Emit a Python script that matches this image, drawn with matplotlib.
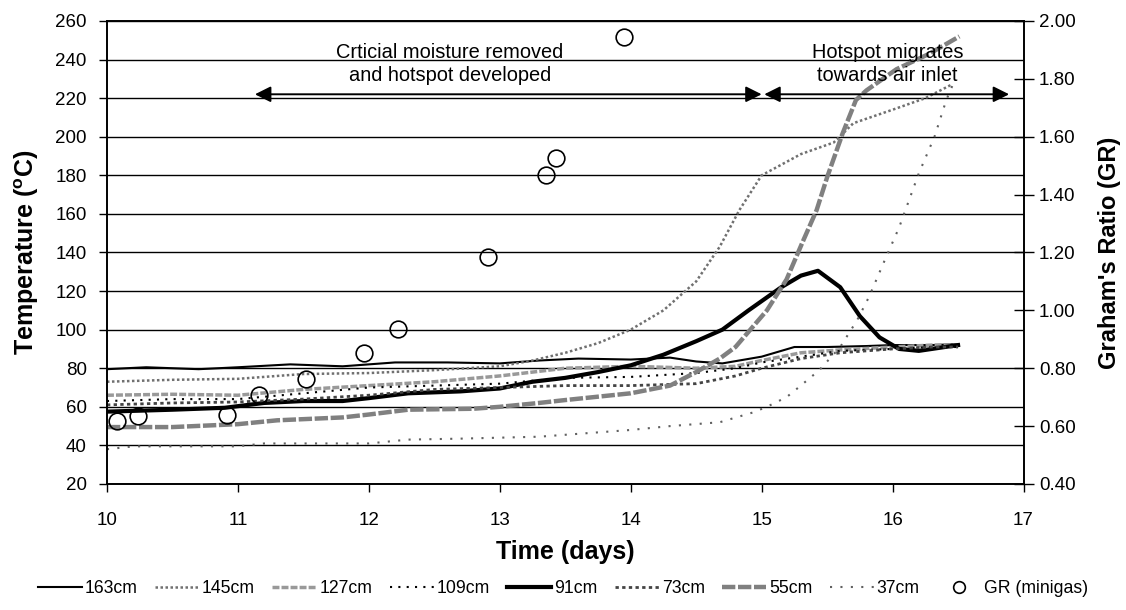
import matplotlib
matplotlib.use("Agg")
import matplotlib.pyplot as plt
from matplotlib.ticker import FormatStrFormatter, MultipleLocator

plt.rcParams['font.family'] = ['Liberation Sans', 'DejaVu Sans']

# ---- data ----
d163 = [10.0, 10.3, 10.7, 11.0, 11.4, 11.8, 12.2, 12.6, 13.0, 13.3, 13.6, 14.0, 14.3, 14.5, 14.7, 15.0, 15.25, 15.5, 15.8, 16.0, 16.3, 16.5]
t163 = [79.5, 80.5, 79.5, 80.5, 82, 81, 83, 83, 82.5, 84, 85, 84.5, 85.5, 83.5, 82.5, 86, 91, 91, 91.5, 92, 92, 92.5]

d145 = [10.0, 10.5, 11.0, 11.5, 12.0, 12.5, 13.0, 13.25, 13.5, 13.75, 14.0, 14.25, 14.5, 14.68, 14.83, 15.0, 15.3, 15.55, 15.7, 16.0, 16.25, 16.45]
t145 = [73, 74, 74.5, 77, 77.5, 79, 81, 84, 88, 93, 100, 110, 125, 143, 162, 180, 191, 197, 207, 214, 220, 227]

d_mid = [10.0, 10.5, 11.0, 11.5, 12.0, 12.5, 13.0, 13.5, 14.0, 14.5, 14.8, 15.0, 15.3, 15.6, 16.0, 16.3, 16.5]
t127 = [66, 66.5, 66, 69, 71, 73, 76, 80, 81, 80, 81, 84, 88, 89.5, 91, 92, 92]
t109 = [63, 64, 64, 67, 70, 71, 72, 75, 75.5, 77.5, 80, 83, 86, 89, 90, 91, 91]
t73 = [61, 62, 62.5, 64, 66, 69, 70, 71, 71, 72, 76, 80, 85, 88, 90, 91, 91]

d91 = [10.0, 10.5, 10.9, 11.2, 11.5, 11.8, 12.0, 12.3, 12.7, 13.0, 13.25, 13.5, 13.75, 14.0, 14.25, 14.5, 14.7, 14.9, 15.15, 15.3, 15.43, 15.6, 15.75, 15.9, 16.05, 16.2, 16.35, 16.5]
t91 = [57.5, 58.5, 59.5, 62, 63, 63, 64.5, 67, 68, 69.5, 73, 75, 78, 81.5, 87, 94, 100, 110, 122, 128, 130.5, 122, 107, 96, 90, 89, 90.5, 92]

d55 = [10.0, 10.5, 11.0, 11.3, 11.8, 12.0, 12.3, 12.8, 13.0, 13.3, 13.5, 14.0, 14.3, 14.5, 14.68, 14.8, 15.04, 15.19, 15.31, 15.42, 15.5, 15.62, 15.72, 15.8, 16.03, 16.28, 16.51]
t55 = [49.5, 49.5, 51, 53, 54.5, 56, 58.5, 59, 60, 62, 63.5, 67, 71, 78, 85, 91, 110, 126, 145, 162, 179, 202, 219, 224, 235, 243, 252]

d37 = [10.0, 10.2, 10.5, 11.0, 11.2, 11.6, 12.0, 12.3, 12.7, 13.0, 13.3, 13.7, 14.0, 14.3, 14.68, 14.93, 15.04, 15.19, 15.29, 15.44, 15.6, 15.73, 15.82, 15.94, 16.05, 16.2, 16.32, 16.41, 16.46]
t37 = [38, 39.5, 39.5, 39.5, 41, 41, 41, 43, 43.5, 44, 44.5, 46.5, 48, 50, 52, 57, 60, 65, 70.5, 79, 91, 105, 117, 136, 153, 181, 200, 219, 227]

gr_days = [10.08, 10.24, 10.92, 11.16, 11.52, 11.96, 12.22, 12.91, 13.35, 13.43, 13.95]
gr_vals = [0.618, 0.635, 0.639, 0.707, 0.763, 0.853, 0.935, 1.185, 1.468, 1.525, 1.946]

series = [
    ('163cm', d163, t163, dict(color='black', lw=1.5, ls='-')),
    ('145cm', d145, t145, dict(color='#707070', lw=1.8, ls=(0, (1, 1)))),
    ('127cm', d_mid, t127, dict(color='#999999', lw=2.5, ls=(0, (2, 0.6)))),
    ('109cm', d_mid, t109, dict(color='black', lw=1.5, ls=(0, (1, 3)))),
    ('91cm', d91, t91, dict(color='black', lw=3, ls='-')),
    ('73cm', d_mid, t73, dict(color='#444444', lw=2, ls=(0, (1.2, 1.2)))),
    ('55cm', d55, t55, dict(color='#808080', lw=3.2, ls=(0, (3, 0.6)))),
    ('37cm', d37, t37, dict(color='#606060', lw=1.5, ls=(0, (1, 4)))),
]

fig = plt.figure(figsize=(11.26, 6.10), dpi=100)
ax = fig.add_axes([0.095, 0.2066, 0.814, 0.759])
ax2 = ax.twinx()

for y in range(20, 261, 20):
    ax.axhline(y, color='black', lw=1, zorder=0)

handles = []
for name, dd, tt, st in series:
    h, = ax.plot(dd, tt, label=name, **st)
    handles.append(h)

hc, = ax2.plot(gr_days, gr_vals, 'o', mfc='none', mec='black', ms=12, mew=1.2,
               label='GR (minigas)', ls='none')
handles.append(hc)

ax.set_xlim(10, 17)
ax.set_ylim(20, 260)
ax2.set_ylim(0.4, 2.0)
ax.yaxis.set_major_locator(MultipleLocator(20))
ax.xaxis.set_major_locator(MultipleLocator(1))
ax2.yaxis.set_major_locator(MultipleLocator(0.2))
ax2.yaxis.set_major_formatter(FormatStrFormatter('%.2f'))

ax.tick_params(axis='both', labelsize=13.5, direction='out', length=6, width=1)
ax.tick_params(axis='x', pad=14)
ax.tick_params(axis='y', pad=8.5)
ax2.tick_params(axis='y', labelsize=13.5, direction='inout', length=14, width=1, pad=4)
for a in (ax, ax2):
    for s in a.spines.values():
        s.set_linewidth(1.2)

ax.set_xlabel('Time (days)', fontsize=18, fontweight='bold', labelpad=8)
ax.set_ylabel(r'Temperature ($\mathregular{^o}$C)', fontsize=18, fontweight='bold', labelpad=10)
ax2.set_ylabel("Graham's Ratio (GR)", fontsize=17, fontweight='bold', labelpad=16)

# annotations
arr = dict(arrowstyle='<|-|>', color='black', lw=1.4, mutation_scale=24,
           shrinkA=0, shrinkB=0)
ax.annotate('', xy=(11.13, 222), xytext=(15.0, 222), arrowprops=arr)
ax.annotate('', xy=(15.02, 222), xytext=(16.89, 222), arrowprops=arr)
ax.text(12.62, 237.7, 'Crticial moisture removed\nand hotspot developed',
        ha='center', va='center', fontsize=14.4, linespacing=1.25)
ax.text(15.96, 237.7, 'Hotspot migrates\ntowards air inlet',
        ha='center', va='center', fontsize=14.4, linespacing=1.25)

fig.legend(handles=handles, loc='lower center', bbox_to_anchor=(0.5, -0.005),
           ncol=9, frameon=False, fontsize=12.7, handlelength=2.5,
           columnspacing=1.0, handletextpad=0.15, markerscale=0.7)

fig.savefig('out.png', dpi=100)
